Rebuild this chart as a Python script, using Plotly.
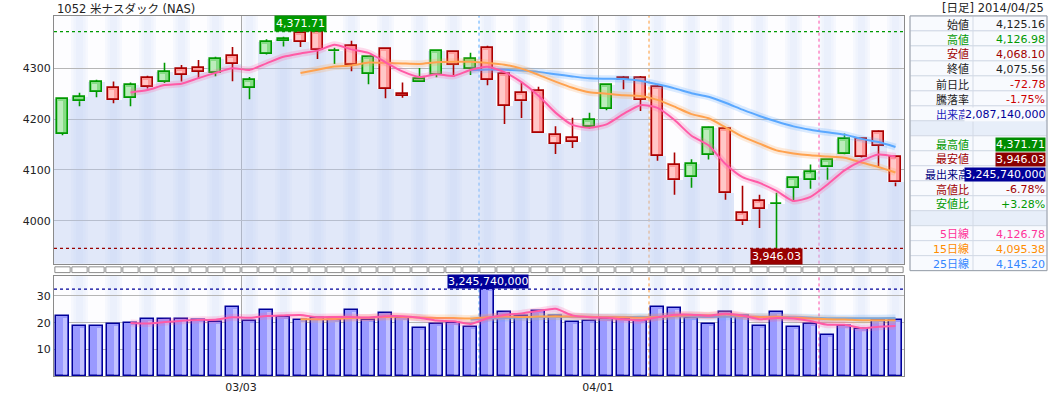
import pandas as pd
import plotly.graph_objects as go

W, H = 1059, 394

title_text = "1052 米ナスダック (NAS)"
header_text = "[日足] 2014/04/25"

opens = [4171.0, 4235.2, 4253.5, 4261.3, 4241.0, 4280.8, 4273.0, 4298.4, 4300.4, 4290.6,
         4323.8, 4261.3, 4327.7, 4353.0, 4369.4, 4370.5, 4333.0, 4343.4, 4288.7, 4337.5,
         4250.2, 4273.0, 4286.7, 4331.7, 4298.4, 4339.5, 4288.7, 4251.5, 4255.4, 4169.5,
         4163.6, 4185.1, 4220.3, 4280.8, 4280.8, 4263.3, 4110.8, 4085.4, 4130.4, 4181.2,
         4015.1, 4038.5, 4033.0, 4065.0, 4079.6, 4105.0, 4132.3, 4161.6, 4175.3, 4125.16]
highs = [4240.0, 4251.8, 4277.0, 4273.6, 4271.7, 4285.3, 4310.7, 4306.3, 4316.0, 4322.5,
         4341.4, 4282.8, 4357.0, 4361.6, 4371.71, 4370.5, 4340.0, 4353.7, 4321.9, 4339.5,
         4271.7, 4300.4, 4333.6, 4333.6, 4330.3, 4344.0, 4290.0, 4273.0, 4263.3, 4185.7,
         4202.7, 4212.4, 4268.0, 4284.8, 4284.8, 4267.2, 4134.3, 4121.2, 4185.1, 4182.0,
         4069.0, 4051.4, 4055.3, 4085.0, 4110.8, 4121.0, 4171.4, 4162.0, 4177.3, 4126.98]
lows = [4168.0, 4225.3, 4243.0, 4231.2, 4225.3, 4260.0, 4271.0, 4273.6, 4279.0, 4284.0,
        4274.2, 4239.0, 4327.0, 4342.6, 4341.4, 4318.0, 4308.2, 4293.7, 4268.3, 4241.0,
        4241.8, 4273.0, 4282.0, 4282.8, 4286.7, 4266.4, 4190.2, 4201.9, 4173.0, 4131.5,
        4143.3, 4181.2, 4217.5, 4258.6, 4215.6, 4117.9, 4051.4, 4065.0, 4120.6, 4041.6,
        3991.6, 3985.8, 3946.03, 4037.7, 4063.1, 4080.7, 4131.0, 4124.5, 4106.9, 4068.10]
closes = [4240.0, 4243.7, 4273.0, 4237.9, 4267.2, 4263.3, 4292.6, 4286.7, 4292.6, 4318.0,
          4308.2, 4277.0, 4351.2, 4357.0, 4351.2, 4335.6, 4334.5, 4306.3, 4321.9, 4259.4,
          4245.7, 4278.9, 4333.6, 4306.3, 4318.0, 4276.9, 4226.1, 4234.8, 4173.4, 4151.9,
          4155.8, 4198.8, 4267.2, 4276.9, 4237.9, 4128.4, 4079.6, 4112.8, 4183.1, 4054.2,
          3999.4, 4022.9, 4034.2, 4084.6, 4095.2, 4120.6, 4161.6, 4126.4, 4148.0, 4075.56]
# volume in units of 100,000,000 shares
volumes = [22.5, 18.8, 18.8, 19.5, 19.9, 21.4, 21.4, 21.4, 21.0, 20.2,
           25.8, 20.6, 24.7, 22.1, 21.0, 21.7, 21.0, 24.7, 21.0, 23.6,
           21.7, 18.0, 19.5, 19.9, 18.4, 32.4574, 24.0, 22.5, 24.3, 22.5,
           20.2, 20.6, 21.4, 21.4, 20.6, 25.8, 25.4, 21.7, 19.5, 24.0,
           22.5, 18.8, 24.0, 18.4, 19.5, 15.4, 18.8, 17.7, 21.0, 20.8714]

month_start_index = [11, 32]
month_labels = ["03/03", "04/01"]

price_ticks = [4000, 4100, 4200, 4300]
volume_ticks = [10, 20, 30]

ma_periods = [5, 15, 25]
ma_line_colors = ["#ff5aa6", "#ffa24f", "#5aa8ff"]
ma_glow_colors = ["rgba(255,90,166,0.22)", "rgba(255,162,79,0.22)", "rgba(90,168,255,0.22)"]
ma_vline_colors = ["#ff4da6", "#ff9933", "#55aaff"]

table_labels = ["始値", "高値", "安値", "終値", "前日比", "騰落率", "出来高", "",
                "最高値", "最安値", "最出来高", "高値比", "安値比", "",
                "5日線", "15日線", "25日線"]
table_values = ["4,125.16", "4,126.98", "4,068.10", "4,075.56", "-72.78", "-1.75%",
                "2,087,140,000", "",
                "4,371.71", "3,946.03", "3,245,740,000", "-6.78%", "+3.28%", "",
                "4,126.78", "4,095.38", "4,145.20"]
table_label_colors = ["#222222", "#009900", "#a00000", "#222222", "#222222", "#222222",
                      "#2222bb", "#222222", "#009900", "#a00000", "#000080", "#a00000",
                      "#009900", "#222222", "#ff3399", "#ff8c00", "#3385ff"]
table_value_colors = ["#222222", "#009900", "#a00000", "#222222", "#cc0000", "#cc0000",
                      "#000099", "#222222", "#ffffff", "#ffffff", "#ffffff", "#a00000",
                      "#009900", "#222222", "#ff3399", "#ff8c00", "#3385ff"]
table_value_bg = [None, None, None, None, None, None, "row", None,
                  "#008c00", "#8b0000", "#000099", None, None, None, None, None, None]

FONT = "DejaVu Sans, Noto Sans CJK JP, sans-serif"
n = len(closes)
xs = list(range(n))

PRICE_MIN, PRICE_MAX = 3915.9, 4402.6
VOL_MAX = 37.4
PRICE_PER_PX = (PRICE_MAX - PRICE_MIN) / 249.0
VOL_PER_PX = VOL_MAX / 101.0


def px(x):
    return x / W


def py(y):
    return 1 - y / H


fig = go.Figure()

# area below close (main panel)
fig.add_trace(go.Bar(x=xs, y=[c - PRICE_MIN for c in closes], base=PRICE_MIN, width=1.0,
                     marker=dict(color="rgba(185,202,240,0.42)", line=dict(width=0)),
                     xaxis="x", yaxis="y", hoverinfo="skip"))

up = [c >= o for o, c in zip(opens, closes)]
GREEN_LINE, GREEN_FILL = "#009900", "#86dc86"
RED_LINE, RED_FILL = "#aa0000", "#ff9a9a"

for is_up, fill, line in [(True, GREEN_FILL, GREEN_LINE), (False, RED_FILL, RED_LINE)]:
    idx = [i for i in xs if up[i] == is_up]
    fig.add_trace(go.Bar(
        x=idx,
        y=[max(abs(closes[i] - opens[i]), 0.6) for i in idx],
        base=[min(opens[i], closes[i]) for i in idx],
        width=0.68,
        marker=dict(color=fill, line=dict(color=line, width=1.6)),
        xaxis="x", yaxis="y", hoverinfo="skip"))
    # light sheen inside the body
    inset = 2.0 * PRICE_PER_PX
    hi_idx = [i for i in idx if abs(closes[i] - opens[i]) > 2.5 * inset]
    fig.add_trace(go.Bar(
        x=[i - 0.1 for i in hi_idx],
        y=[abs(closes[i] - opens[i]) - 2 * inset for i in hi_idx],
        base=[min(opens[i], closes[i]) + inset for i in hi_idx],
        width=0.3,
        marker=dict(color="rgba(255,255,255,0.45)", line=dict(width=0)),
        xaxis="x", yaxis="y", hoverinfo="skip"))
    wx, wy = [], []
    for i in idx:
        top = max(opens[i], closes[i])
        bot = min(opens[i], closes[i])
        wx += [i, i, None, i, i, None]
        wy += [highs[i], top, None, bot, lows[i], None]
    fig.add_trace(go.Scatter(x=wx, y=wy, mode="lines", line=dict(color=line, width=1.6),
                             xaxis="x", yaxis="y", hoverinfo="skip"))

# volume bars
fig.add_trace(go.Bar(x=xs, y=volumes, width=0.72,
                     marker=dict(color="#9a9aff", line=dict(color="#000099", width=1.5)),
                     xaxis="x2", yaxis="y2", hoverinfo="skip"))
vinset = 2.0 * VOL_PER_PX
fig.add_trace(go.Bar(x=[i + 0.14 for i in xs], y=[v - 2 * vinset for v in volumes], base=vinset,
                     width=0.28,
                     marker=dict(color="rgba(255,255,255,0.4)", line=dict(width=0)),
                     xaxis="x2", yaxis="y2", hoverinfo="skip"))

# moving averages
close_s = pd.Series(closes)
vol_s = pd.Series(volumes)
for p, lc, gc in zip(ma_periods[::-1], ma_line_colors[::-1], ma_glow_colors[::-1]):
    for s, xa, ya in [(close_s, "x", "y"), (vol_s, "x2", "y2")]:
        ma = s.rolling(p).mean()
        fig.add_trace(go.Scatter(x=xs, y=ma, mode="lines",
                                 line=dict(color=gc, width=7, shape="spline", smoothing=0.6),
                                 xaxis=xa, yaxis=ya, hoverinfo="skip"))
        fig.add_trace(go.Scatter(x=xs, y=ma, mode="lines",
                                 line=dict(color=lc, width=2, shape="spline", smoothing=0.6),
                                 xaxis=xa, yaxis=ya, hoverinfo="skip"))

shapes = []
# stripes
for i in xs:
    if i % 2 == 1:
        for w in (1.0, 0.7, 0.4):
            for xr, yr in [("x", "y domain"), ("x2", "y2 domain")]:
                shapes.append(dict(type="rect", xref=xr, yref=yr, x0=i - w / 2, x1=i + w / 2,
                                   y0=0, y1=1, fillcolor="rgba(205,220,250,0.15)",
                                   line=dict(width=0), layer="below"))
# moving-average window markers
for p, c in zip(ma_periods, ma_vline_colors):
    for xr, yr in [("x", "y domain"), ("x2", "y2 domain")]:
        shapes.append(dict(type="line", xref=xr, yref=yr, x0=n - p - 0.5, x1=n - p - 0.5,
                           y0=0, y1=1, line=dict(color=c, width=1, dash="dot"), layer="below"))
# max / min lines
hi_max = max(highs)
lo_min = min(lows)
vol_max = max(volumes)
shapes.append(dict(type="line", xref="x domain", yref="y", x0=0, x1=1, y0=hi_max, y1=hi_max,
                   line=dict(color="#009900", width=1.3, dash="dot")))
shapes.append(dict(type="line", xref="x domain", yref="y", x0=0, x1=1, y0=lo_min, y1=lo_min,
                   line=dict(color="#990000", width=1.3, dash="dot")))
shapes.append(dict(type="line", xref="x2 domain", yref="y2", x0=0, x1=1, y0=vol_max, y1=vol_max,
                   line=dict(color="#000099", width=1.3, dash="dot")))
# small boxes row between panels
for i in xs:
    shapes.append(dict(type="rect", xref="x", yref="paper", x0=i - 0.45, x1=i + 0.45,
                       y0=py(274), y1=py(268.2), fillcolor="white",
                       line=dict(color="#8c8c8c", width=1)))

# info table
T_LEFT, T_DIV, T_RIGHT, T_TOP, ROW_H = 910, 973, 1047, 16, 15.06
ROW_COLOR, EMPTY_COLOR = "#f8fafe", "#e7eef9"
for r, lab in enumerate(table_labels):
    y0 = T_TOP + r * ROW_H
    shapes.append(dict(type="rect", xref="paper", yref="paper", x0=px(T_LEFT), x1=px(T_RIGHT),
                       y0=py(y0 + ROW_H), y1=py(y0),
                       fillcolor=EMPTY_COLOR if lab == "" else ROW_COLOR,
                       line=dict(color="#d3dae6", width=1)))
T_BOTTOM = T_TOP + len(table_labels) * ROW_H
shapes.append(dict(type="line", xref="paper", yref="paper", x0=px(T_DIV), x1=px(T_DIV),
                   y0=py(T_BOTTOM), y1=py(T_TOP), line=dict(color="#d3dae6", width=1)))
shapes.append(dict(type="rect", xref="paper", yref="paper", x0=px(T_LEFT), x1=px(T_RIGHT),
                   y0=py(T_BOTTOM), y1=py(T_TOP), line=dict(color="#9aa0aa", width=1)))

annotations = []
annotations.append(dict(text=title_text, x=px(55), y=py(9), xref="paper", yref="paper",
                        xanchor="left", yanchor="middle", showarrow=False,
                        font=dict(family=FONT, size=11.5, color="#222222")))
annotations.append(dict(text=header_text, x=px(1046), y=py(8), xref="paper", yref="paper",
                        xanchor="right", yanchor="middle", showarrow=False,
                        font=dict(family=FONT, size=11.5, color="#222222")))
for r, (lab, val) in enumerate(zip(table_labels, table_values)):
    yc = T_TOP + r * ROW_H + ROW_H / 2 + 1.5
    if lab:
        annotations.append(dict(text=lab, x=px(971), y=py(yc), xref="paper", yref="paper",
                                xanchor="right", yanchor="middle", showarrow=False,
                                font=dict(family=FONT, size=11, color=table_label_colors[r])))
    if val:
        bg = table_value_bg[r]
        if bg == "row":
            bg = ROW_COLOR
        a = dict(text=val, x=px(1046), y=py(yc), xref="paper", yref="paper",
                 xanchor="right", yanchor="middle", showarrow=False, borderpad=0,
                 font=dict(family=FONT, size=11, color=table_value_colors[r]))
        if bg:
            a["bgcolor"] = bg
        annotations.append(a)

# max/min value labels on the chart
annotations.append(dict(text=f"{hi_max:,.2f}", x=highs.index(hi_max), y=hi_max, xref="x", yref="y",
                        xanchor="center", yanchor="bottom", showarrow=False, bgcolor="#009900",
                        borderpad=1, font=dict(family=FONT, size=11, color="white")))
annotations.append(dict(text=f"{lo_min:,.2f}", x=lows.index(lo_min), y=lo_min, xref="x", yref="y",
                        xanchor="center", yanchor="top", showarrow=False, bgcolor="#990000",
                        borderpad=1, font=dict(family=FONT, size=11, color="white")))
annotations.append(dict(text=f"{vol_max * 1e8:,.0f}", x=volumes.index(vol_max), y=vol_max,
                        xref="x2", yref="y2", xanchor="center", yanchor="bottom", showarrow=False,
                        bgcolor="#000099", borderpad=0,
                        font=dict(family=FONT, size=11, color="white")))

axis_common = dict(showline=True, mirror=True, linecolor="#8a8a8a", linewidth=1, zeroline=False,
                   ticks="", fixedrange=True)
grid_x = [i - 0.5 for i in month_start_index]

fig.update_layout(
    width=W, height=H, autosize=False, margin=dict(l=0, r=0, t=0, b=0),
    paper_bgcolor="white", plot_bgcolor="#fdfdff", showlegend=False,
    barmode="overlay", bargap=0,
    xaxis=dict(domain=[px(54), px(904)], range=[-0.5, n - 0.5], anchor="y",
               tickvals=grid_x, showticklabels=False, showgrid=True, gridcolor="#a8a8a8",
               gridwidth=1, **axis_common),
    yaxis=dict(domain=[py(265), py(16)], range=[PRICE_MIN, PRICE_MAX], anchor="x",
               tickvals=price_ticks, ticktext=[str(t) for t in price_ticks],
               showgrid=True, gridcolor="#b6b6b6", gridwidth=1,
               tickfont=dict(family=FONT, size=11, color="#222222"), **axis_common),
    xaxis2=dict(domain=[px(54), px(904)], range=[-0.5, n - 0.5], anchor="y2", matches="x",
                tickvals=grid_x, ticktext=month_labels, showgrid=True, gridcolor="#a8a8a8",
                tickfont=dict(family=FONT, size=11, color="#222222"), **axis_common),
    yaxis2=dict(domain=[py(378.3), py(277.3)], range=[0, VOL_MAX], anchor="x2",
                tickvals=volume_ticks, ticktext=[str(t) for t in volume_ticks],
                showgrid=True, gridcolor="#b6b6b6", gridwidth=1,
                tickfont=dict(family=FONT, size=11, color="#222222"), **axis_common),
    shapes=shapes,
    annotations=annotations,
)

fig.write_html("out.html", config={"displayModeBar": False},
               post_script="document.body.style.margin='0';document.body.style.overflow='hidden';")
